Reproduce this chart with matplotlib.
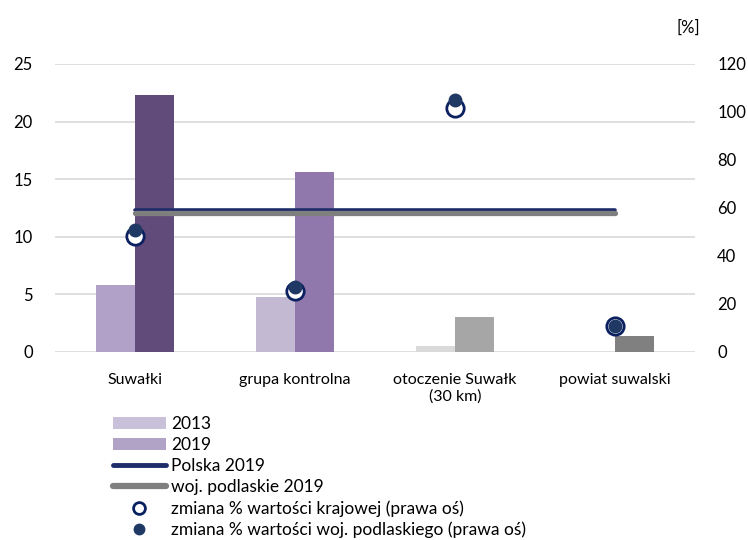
import matplotlib
matplotlib.use("Agg")
import matplotlib.pyplot as plt
from matplotlib.patches import Patch
from matplotlib.lines import Line2D
import numpy as np

plt.rcParams['font.family'] = ['Lato', 'DejaVu Sans']

categories = ["Suwałki", "grupa kontrolna", "otoczenie Suwałk\n(30 km)", "powiat suwalski"]
val_2013 = [5.8, 4.8, 0.5, 0.0]
val_2019 = [22.3, 15.6, 3.0, 1.4]
polska_2019 = 12.35
podlaskie_2019 = 12.1
zmiana_krajowa = [48.5, 25.5, 101.5, 11.0]
zmiana_podlaska = [51.0, 27.0, 105.0, 11.0]

colors_2013 = ["#b1a1c9", "#c4b9d3", "#d9d9d9", "#bfbfbf"]
colors_2019 = ["#604b7b", "#9078ad", "#a6a6a6", "#808080"]

fig = plt.figure(figsize=(7.48, 5.40), dpi=100)
ax = fig.add_axes([55/748, 1-352/540, 640/748, 288/540])
ax2 = ax.twinx()

x = np.arange(len(categories))
w = 0.245
ax.bar(x - w/2, val_2013, width=w, color=colors_2013, zorder=2)
ax.bar(x + w/2, val_2019, width=w, color=colors_2019, zorder=2)

ax.plot([x[0], x[-1]], [polska_2019]*2, color="#1f2d6b", lw=2.6, solid_capstyle='round', zorder=2.9)
ax.plot([x[0], x[-1]], [podlaskie_2019]*2, color="#7f7f7f", lw=3.8, solid_capstyle='round', zorder=3)

ax.set_xlim(-0.5, 3.5)
ax.set_ylim(0, 25)
ax.set_yticks(range(0, 26, 5))
ax.grid(axis='y', color="#d9d9d9", lw=1.2, zorder=0)
ax.set_axisbelow(True)
ax.set_xticks(x)
ax.set_xticklabels(categories, fontsize=11.5, color="#000000")
ax.tick_params(axis='both', length=0, labelsize=12)
ax.tick_params(axis='x', pad=15, labelsize=11.5)
ax.tick_params(axis='y', pad=16)
for s in ax.spines.values():
    s.set_visible(False)

ax2.plot(x, zmiana_krajowa, linestyle='none', marker='o', markersize=12.5,
         markerfacecolor='white', markeredgecolor='#0b2060', markeredgewidth=2.0, zorder=4)
ax2.plot(x, zmiana_podlaska, linestyle='none', marker='o', markersize=9.0,
         markerfacecolor='#1f3864', markeredgecolor='#1f3864', zorder=5)
ax2.set_ylim(0, 120)
ax2.set_yticks(range(0, 121, 20))
ax2.tick_params(axis='y', length=0, labelsize=12, pad=16)
for s in ax2.spines.values():
    s.set_visible(False)

fig.text(688/748, 1-28/540, "[%]", fontsize=12, ha='center', va='center')

handles = [
    Patch(facecolor="#c9c0d9", edgecolor='none'),
    Patch(facecolor="#b1a3c6", edgecolor='none'),
    Line2D([0], [0], color="#1f2d6b", lw=3.5, solid_capstyle='round'),
    Line2D([0], [0], color="#7f7f7f", lw=4.5, solid_capstyle='round'),
    Line2D([0], [0], linestyle='none', marker='o', markersize=8.5, markerfacecolor='white',
           markeredgecolor='#0b2060', markeredgewidth=2.0),
    Line2D([0], [0], linestyle='none', marker='o', markersize=7.5, markerfacecolor='#1f3864',
           markeredgecolor='#1f3864'),
]
labels = ["2013", "2019", "Polska 2019", "woj. podlaskie 2019",
          "zmiana % wartości krajowej (prawa oś)",
          "zmiana % wartości woj. podlaskiego (prawa oś)"]
fs = 12.5
fig.legend(handles, labels, loc='upper left', bbox_to_anchor=(113/748, 1-416/540),
           frameon=False, fontsize=fs, handlelength=3.05, handleheight=0.7,
           handletextpad=0.28, labelspacing=0.29, borderpad=0, borderaxespad=0)

fig.savefig("out.png", dpi=100)
